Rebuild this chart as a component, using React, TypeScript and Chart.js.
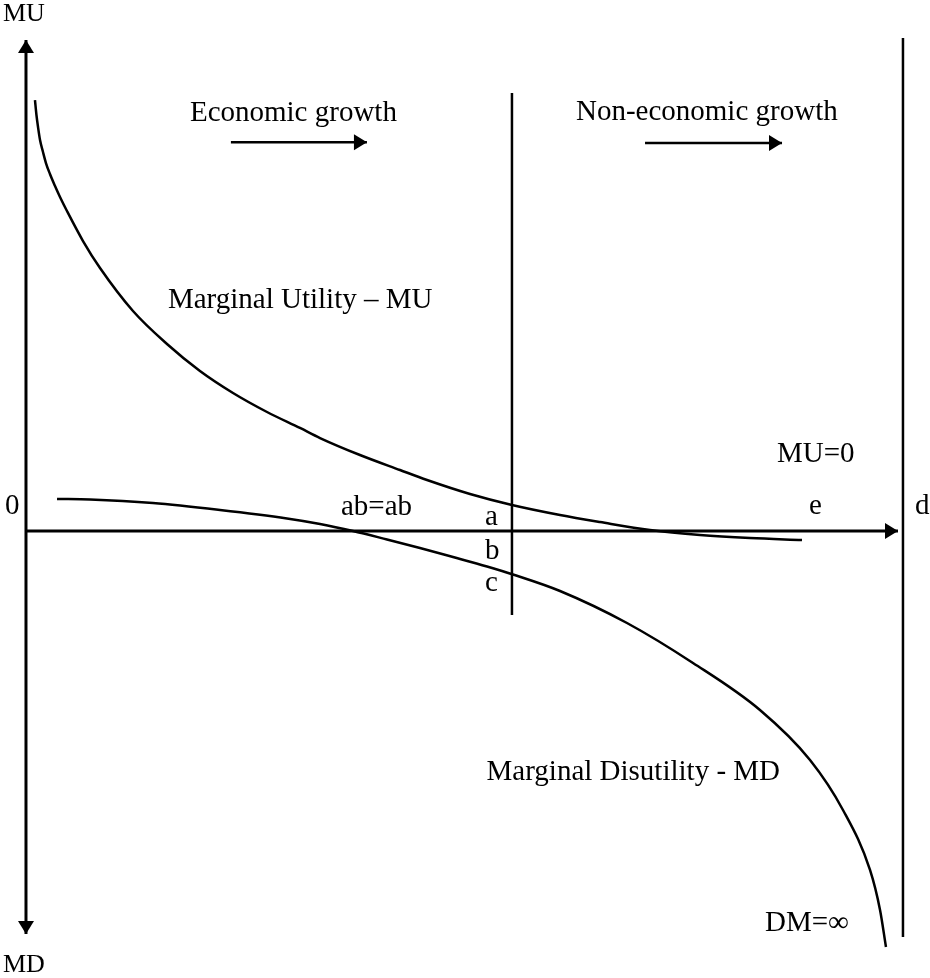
import React, { useEffect, useRef } from "react";
import { Chart, registerables } from "chart.js";

Chart.register(...registerables);

// Marginal Utility curve
const muX = [1.03, 1.2, 1.38, 1.61, 1.95, 2.29, 2.75, 3.33, 3.9, 4.7, 6.54, 8.49, 12.27, 16.17, 19.95, 23.74, 27.64, 31.42, 33.72, 38.3, 42.89, 45.99, 50.92, 55.73, 61.24, 65.83, 71.56, 77.29, 83.03, 88.99];
const muY = [87.78, 84.73, 82.28, 79.63, 77.19, 74.95, 72.71, 70.26, 68.02, 65.17, 59.06, 53.56, 44.81, 38.09, 32.59, 28.11, 24.24, 20.98, 18.94, 15.48, 12.42, 10.39, 7.54, 5.3, 3.26, 1.83, 0.2, -0.81, -1.43, -1.83];

// Marginal Disutility curve
const mdX = [3.56, 7.34, 14.56, 22.25, 29.93, 33.72, 37.5, 41.4, 45.18, 48.97, 52.87, 55.85, 61.24, 68.92, 76.49, 84.17, 89.91, 93.69, 96.79, 97.94, 98.62];
const mdY = [6.52, 6.42, 5.7, 4.28, 2.55, 1.43, 0, -1.73, -3.46, -5.3, -7.23, -8.86, -12.22, -18.74, -26.88, -36.46, -46.64, -56.82, -69.04, -77.19, -84.73];

// Axes and guide lines
const yAxisX = [0, 0];
const yAxisY = [-82.1, 100];
const xAxisX = [0, 100];
const xAxisY = [0, 0];
const midLineX = [55.73, 55.73];
const midLineY = [-17.1, 89.2];
const rightLineX = [100.57, 100.57];
const rightLineY = [-82.7, 100.4];
const econArrowX = [23.5, 39.1];
const econArrowY = [79.2, 79.2];
const nonEconArrowX = [70.99, 86.7];
const nonEconArrowY = [79.0, 79.0];

// Text labels
const labelTexts = ["MU", "MD", "Economic growth", "Non-economic growth", "Marginal Utility – MU", "MU=0", "0", "ab=ab", "a", "b", "c", "e", "d", "Marginal Disutility - MD", "DM=∞"];
const labelX = [-2.64, -2.64, 18.8, 63.07, 16.28, 86.12, -2.41, 36.12, 52.64, 52.64, 52.64, 89.79, 101.95, 86.47, 84.75];
const labelY = [103.9, -89.8, 83.5, 83.7, 45.4, 14.05, 3.46, 3.26, 1.22, -5.7, -12.22, 3.46, 3.46, -50.7, -81.47];
const labelAlign = ["left", "left", "left", "left", "left", "left", "left", "left", "left", "left", "left", "left", "left", "right", "left"];
const labelSize = [26, 26, 29, 29, 29, 29, 29, 29, 29, 29, 29, 29, 29, 29, 29];

const pts = (xs: number[], ys: number[]) => xs.map((x, i) => ({ x, y: ys[i] }));

const FONT = "'Liberation Serif', 'DejaVu Serif', serif";

const arrowPlugin = {
  id: "arrowHeads",
  afterDatasetsDraw(chart: any) {
    const ctx = chart.ctx;
    const xs = chart.scales.x;
    const ys = chart.scales.y;
    chart.data.datasets.forEach((ds: any) => {
      const d = ds.data;
      const draw = (tip: any, from: any) => {
        const tx = xs.getPixelForValue(tip.x);
        const ty = ys.getPixelForValue(tip.y);
        const fx = xs.getPixelForValue(from.x);
        const fy = ys.getPixelForValue(from.y);
        const ang = Math.atan2(ty - fy, tx - fx);
        const len = 13;
        const hw = 8;
        ctx.save();
        ctx.translate(tx, ty);
        ctx.rotate(ang);
        ctx.beginPath();
        ctx.moveTo(0, 0);
        ctx.lineTo(-len, -hw);
        ctx.lineTo(-len, hw);
        ctx.closePath();
        ctx.fillStyle = "#000";
        ctx.fill();
        ctx.restore();
      };
      if (ds.arrowEnd) draw(d[d.length - 1], d[d.length - 2]);
      if (ds.arrowStart) draw(d[0], d[1]);
    });
  },
};

const textPlugin = {
  id: "textLabels",
  afterDatasetsDraw(chart: any) {
    const ctx = chart.ctx;
    const xs = chart.scales.x;
    const ys = chart.scales.y;
    ctx.save();
    ctx.fillStyle = "#000";
    ctx.textBaseline = "alphabetic";
    labelTexts.forEach((t, i) => {
      ctx.font = `${labelSize[i]}px ${FONT}`;
      ctx.textAlign = labelAlign[i];
      ctx.fillText(t, xs.getPixelForValue(labelX[i]), ys.getPixelForValue(labelY[i]));
    });
    ctx.restore();
  },
};

export default function App() {
  const ref = useRef<HTMLCanvasElement | null>(null);

  useEffect(() => {
    if (!ref.current) return;
    const lineDs = (data: any[], width: number, extra: any = {}) => ({
      data,
      showLine: true,
      borderColor: "#000",
      backgroundColor: "#000",
      borderWidth: width,
      pointRadius: 0,
      fill: false,
      ...extra,
    });
    const chart = new Chart(ref.current, {
      type: "scatter",
      data: {
        datasets: [
          lineDs(pts(yAxisX, yAxisY), 3, { arrowStart: true, arrowEnd: true }),
          lineDs(pts(xAxisX, xAxisY), 3, { arrowEnd: true }),
          lineDs(pts(midLineX, midLineY), 2.5),
          lineDs(pts(rightLineX, rightLineY), 2.5),
          lineDs(pts(econArrowX, econArrowY), 2.5, { arrowEnd: true }),
          lineDs(pts(nonEconArrowX, nonEconArrowY), 2.5, { arrowEnd: true }),
          lineDs(pts(muX, muY), 2.5, { cubicInterpolationMode: "monotone" }),
          lineDs(pts(mdX, mdY), 2.5, { cubicInterpolationMode: "monotone" }),
        ] as any,
      },
      options: {
        animation: false,
        responsive: true,
        maintainAspectRatio: false,
        layout: { padding: 0 },
        plugins: { legend: { display: false }, tooltip: { enabled: false } },
        scales: {
          x: { type: "linear", min: -2.98, max: 103.67, display: false },
          y: { type: "linear", min: -91.04, max: 108.15, display: false },
        },
      } as any,
      plugins: [arrowPlugin, textPlugin],
    });
    return () => chart.destroy();
  }, []);

  return (
    <div style={{ position: "absolute", left: 0, top: 0, width: 930, height: 978, background: "#fff" }}>
      <canvas ref={ref} />
    </div>
  );
}
